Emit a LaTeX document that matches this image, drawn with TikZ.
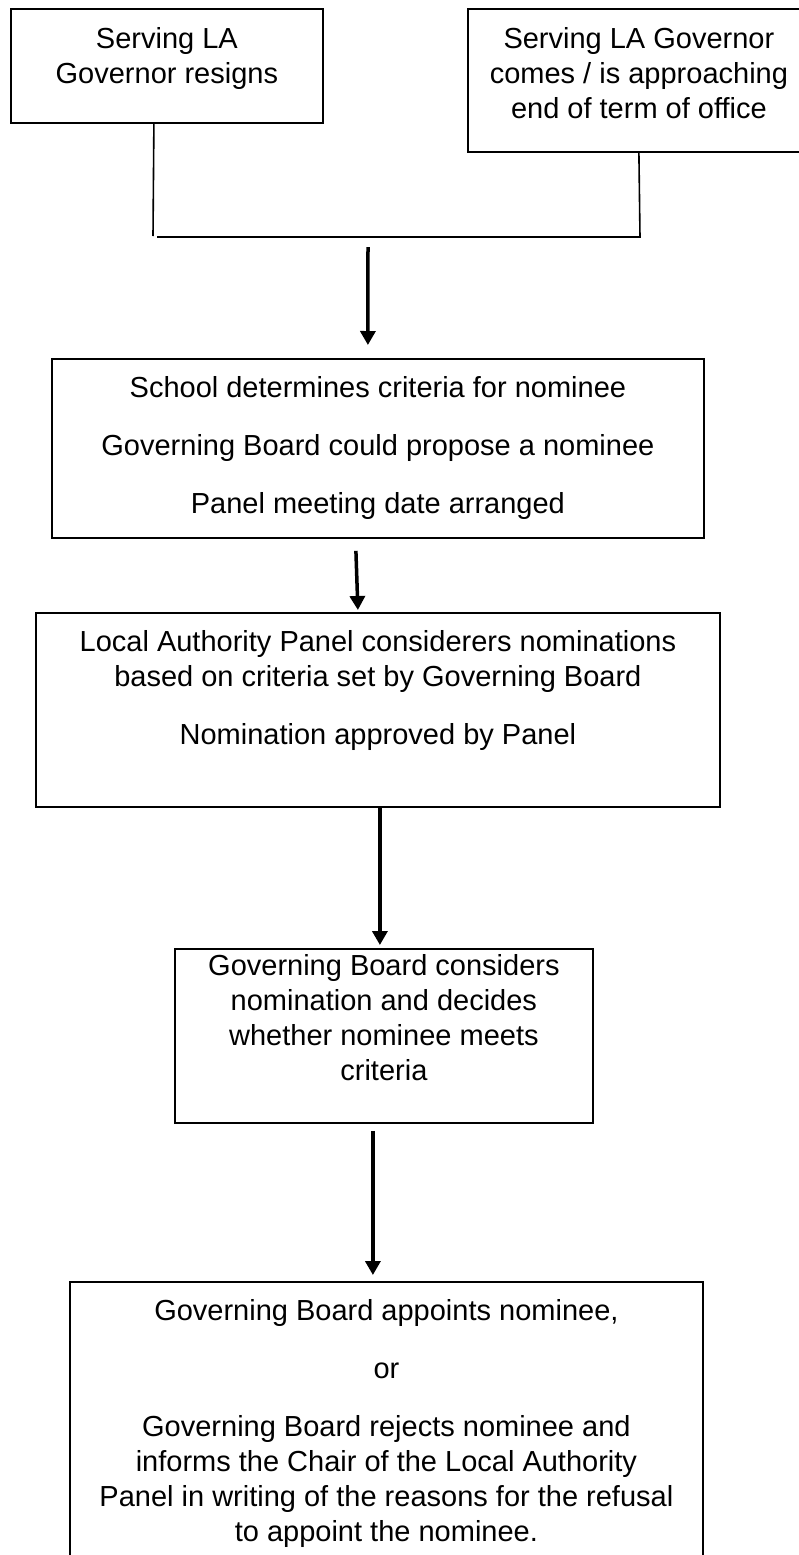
\documentclass[tikz,border=0pt]{standalone}
\usepackage{fontspec}
\setmainfont{Liberation Sans}
\usetikzlibrary{arrows.meta}
% box body: width, height, space above first line, text
\newcommand\boxbody[4]{\parbox[c][#2][t]{#1}{\centering\vspace*{#3}\strut #4}}
\begin{document}
\begin{tikzpicture}[x=1pt,y=-1pt,
  stepbox/.style={draw, line width=1.8pt, inner sep=0pt, anchor=north west,
    font=\fontsize{29}{35}\selectfont},
  link/.style={line width=1.6pt},
  arr/.style={line width=3.5pt, -{Triangle[width=15pt,length=14pt]}}]
\useasboundingbox (0,0) rectangle (798,1555);

% boxes
\node[stepbox] (b1) at (10,8.5)
  {\boxbody{312pt}{113.5pt}{14.5pt}{Serving LA\\Governor resigns}};
\node[stepbox] (b2) at (467,8.5)
  {\boxbody{342pt}{142.5pt}{14.5pt}{Serving LA Governor\\comes / is approaching\\end of term of office}};
\node[stepbox] (b3) at (51,358)
  {\boxbody{652pt}{179pt}{14.5pt}{School determines criteria for nominee\\[23pt]
   Governing Board could propose a nominee\\[23pt]Panel meeting date arranged}};
\node[stepbox] (b4) at (35,612)
  {\boxbody{684pt}{194pt}{14.5pt}{Local Authority Panel considerers nominations\\
   based on criteria set by Governing Board\\[23pt]Nomination approved by Panel}};
\node[stepbox] (b5) at (174,948)
  {\boxbody{418pt}{174pt}{2.5pt}{Governing Board considers\\nomination and decides\\
   whether nominee meets\\criteria}};
\node[stepbox] (b6) at (69,1281)
  {\boxbody{633pt}{320pt}{14.5pt}{Governing Board appoints nominee,\\[23pt]or\\[23pt]
   Governing Board rejects nominee and\\informs the Chair of the Local Authority\\
   Panel in writing of the reasons for the refusal\\to appoint the nominee.}};

% joining lines below the two starting boxes
\coordinate (jl) at (153,236);
\coordinate (hl) at (157,237);
\coordinate (jr) at (640,237);
\draw[link] ([xshift=-13pt]b1.south) -- (jl);
\draw[link] (hl) -- (jr) -- (b2.south);

% arrows
\coordinate (a1) at (368,247);
\draw[arr] (a1) -- ([xshift=-10pt,yshift=13pt]b3.north);
\draw[arr] ([xshift=-22pt,yshift=-12pt]b3.south) -- ([xshift=-20pt,yshift=2pt]b4.north);
\draw[arr] ([xshift=2pt]b4.south) -- ([xshift=-4pt,yshift=3pt]b5.north);
\draw[arr] ([xshift=-11pt,yshift=-7pt]b5.south) -- ([xshift=-13.5pt,yshift=6pt]b6.north);
\end{tikzpicture}
\end{document}
